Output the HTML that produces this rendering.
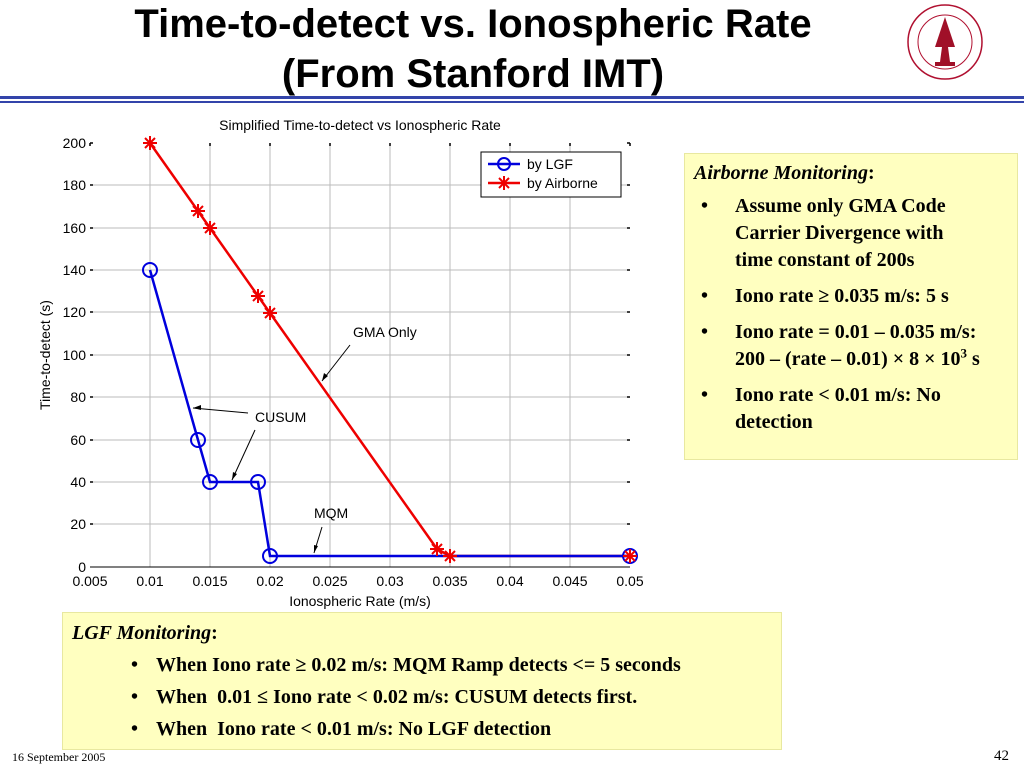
<!DOCTYPE html>
<html><head><meta charset="utf-8"><style>
body{margin:0;width:1024px;height:768px;background:#fff;position:relative;overflow:hidden;font-family:"Liberation Serif",serif}
.t{position:absolute;left:0;width:946px;text-align:center;font-family:"Liberation Sans",sans-serif;font-weight:bold;font-size:40px;line-height:46px}
.box{position:absolute;background:#ffffc0;border:1px solid #e8e8a0;font-weight:bold;font-size:20px;color:#000}
.box p{margin:0}
ul{margin:0;padding:0;list-style:none}
li{position:relative}
li:before{content:"•";position:absolute;left:0}
</style></head><body>
<div class="t" style="top:1px">Time-to-detect vs. Ionospheric Rate</div>
<div class="t" style="top:51px">(From Stanford IMT)</div>
<svg style="position:absolute;left:905px;top:2px" width="80" height="80" viewBox="0 0 80 80">
<circle cx="40" cy="40" r="37" fill="none" stroke="#b01030" stroke-width="1.5"/>
<circle cx="40" cy="40" r="27" fill="none" stroke="#b01030" stroke-width="1"/>
<path d="M40 15 L30 45 L37 45 L35 60 L45 60 L43 45 L50 45 Z" fill="#a01028"/>
<rect x="30" y="60" width="20" height="4" fill="#a01028"/>
</svg>
<div style="position:absolute;left:0;top:96px;width:1024px;height:3px;background:#3344aa"></div>
<div style="position:absolute;left:0;top:101px;width:1024px;height:2px;background:#3344aa"></div>
<svg style="position:absolute;left:0;top:0" width="680" height="612" font-family="Liberation Sans,sans-serif" font-size="14">
<text x="360" y="130" text-anchor="middle">Simplified Time-to-detect vs Ionospheric Rate</text>
<g stroke="#bbb" stroke-width="1">
<line x1="150" y1="143" x2="150" y2="567"/><line x1="210" y1="143" x2="210" y2="567"/><line x1="270" y1="143" x2="270" y2="567"/><line x1="330" y1="143" x2="330" y2="567"/><line x1="390" y1="143" x2="390" y2="567"/><line x1="450" y1="143" x2="450" y2="567"/><line x1="510" y1="143" x2="510" y2="567"/><line x1="570" y1="143" x2="570" y2="567"/>
<line x1="90" y1="185" x2="630" y2="185"/><line x1="90" y1="228" x2="630" y2="228"/><line x1="90" y1="270" x2="630" y2="270"/><line x1="90" y1="312" x2="630" y2="312"/><line x1="90" y1="355" x2="630" y2="355"/><line x1="90" y1="397" x2="630" y2="397"/><line x1="90" y1="440" x2="630" y2="440"/><line x1="90" y1="482" x2="630" y2="482"/><line x1="90" y1="524" x2="630" y2="524"/>
</g>
<g stroke="#000" stroke-width="1.5">
<path d="M90 143v3M150 143v3M210 143v3M270 143v3M330 143v3M390 143v3M450 143v3M510 143v3M570 143v3M630 143v3"/>
<path d="M90 143h3M90 185h3M90 228h3M90 270h3M90 312h3M90 355h3M90 397h3M90 440h3M90 482h3M90 524h3"/>
<path d="M627 143h3M627 185h3M627 228h3M627 270h3M627 312h3M627 355h3M627 397h3M627 440h3M627 482h3M627 524h3"/>
</g>
<line x1="90" y1="567" x2="630" y2="567" stroke="#000"/>
<g text-anchor="end"><text x="86" y="148">200</text><text x="86" y="190">180</text><text x="86" y="233">160</text><text x="86" y="275">140</text><text x="86" y="317">120</text><text x="86" y="360">100</text><text x="86" y="402">80</text><text x="86" y="445">60</text><text x="86" y="487">40</text><text x="86" y="529">20</text><text x="86" y="572">0</text></g>
<g text-anchor="middle"><text x="90" y="586">0.005</text><text x="150" y="586">0.01</text><text x="210" y="586">0.015</text><text x="270" y="586">0.02</text><text x="330" y="586">0.025</text><text x="390" y="586">0.03</text><text x="450" y="586">0.035</text><text x="510" y="586">0.04</text><text x="570" y="586">0.045</text><text x="630" y="586">0.05</text>
<text x="360" y="606">Ionospheric Rate (m/s)</text>
<text transform="translate(50,355) rotate(-90)">Time-to-detect (s)</text></g>
<polyline points="150,143 198,211 210,228 258,296 270,313 437,549 450,556 630,556" fill="none" stroke="#e00" stroke-width="2.5"/>
<polyline points="150,270 198,440 210,482 258,482 270,556 630,556" fill="none" stroke="#00d" stroke-width="2.5"/>
<g fill="none" stroke="#00d" stroke-width="2"><circle cx="150" cy="270" r="7"/><circle cx="198" cy="440" r="7"/><circle cx="210" cy="482" r="7"/><circle cx="258" cy="482" r="7"/><circle cx="270" cy="556" r="7"/><circle cx="630" cy="556" r="7"/></g>
<g stroke="#e00" stroke-width="2">
<path d="M-7 0H7M0 -7V7M-5 -5L5 5M-5 5L5 -5" transform="translate(150,143)"/>
<path d="M-7 0H7M0 -7V7M-5 -5L5 5M-5 5L5 -5" transform="translate(198,211)"/>
<path d="M-7 0H7M0 -7V7M-5 -5L5 5M-5 5L5 -5" transform="translate(210,228)"/>
<path d="M-7 0H7M0 -7V7M-5 -5L5 5M-5 5L5 -5" transform="translate(258,296)"/>
<path d="M-7 0H7M0 -7V7M-5 -5L5 5M-5 5L5 -5" transform="translate(270,313)"/>
<path d="M-7 0H7M0 -7V7M-5 -5L5 5M-5 5L5 -5" transform="translate(437,549)"/>
<path d="M-7 0H7M0 -7V7M-5 -5L5 5M-5 5L5 -5" transform="translate(450,556)"/>
<path d="M-7 0H7M0 -7V7M-5 -5L5 5M-5 5L5 -5" transform="translate(630,556)"/>
</g>
<rect x="481" y="152" width="140" height="45" fill="#fff" stroke="#000"/>
<line x1="488" y1="164" x2="520" y2="164" stroke="#00d" stroke-width="2.5"/><circle cx="504" cy="164" r="6" fill="none" stroke="#00d" stroke-width="2"/>
<line x1="488" y1="183" x2="520" y2="183" stroke="#e00" stroke-width="2.5"/><path d="M-7 0H7M0 -7V7M-5 -5L5 5M-5 5L5 -5" transform="translate(504,183)" stroke="#e00" stroke-width="2"/>
<text x="527" y="169">by LGF</text><text x="527" y="188">by Airborne</text>
<text x="353" y="337">GMA Only</text><text x="255" y="422">CUSUM</text><text x="314" y="518">MQM</text>
<g stroke="#000" fill="none"><line x1="350" y1="345" x2="322" y2="381"/><line x1="248" y1="413" x2="193" y2="408"/><line x1="255" y1="430" x2="232" y2="480"/><line x1="322" y1="527" x2="314" y2="553"/></g>
<g fill="#000"><path d="M322 381l2-8 4 3z"/><path d="M193 408l8-3 0 5z"/><path d="M232 480l1-8 4 2z"/><path d="M314 553l0-8 4 1z"/></g>
</svg>
<div class="box" style="left:684px;top:153px;width:332px;height:305px">
<p style="margin:8px 0 0 9px"><i>Airborne Monitoring</i>:</p>
<ul style="margin:8px 10px 0 16px;line-height:27px">
<li style="padding-left:34px;margin-bottom:9px;padding-right:30px">Assume only GMA Code Carrier Divergence with time constant of 200s</li>
<li style="padding-left:34px;margin-bottom:9px">Iono rate ≥ 0.035 m/s: 5 s</li>
<li style="padding-left:34px;margin-bottom:9px">Iono rate = 0.01 – 0.035 m/s:<br>200 – (rate – 0.01) × 8 × 10<sup style="font-size:13px;line-height:0">3</sup> s</li>
<li style="padding-left:34px">Iono rate &lt; 0.01 m/s: No detection</li>
</ul></div>
<div class="box" style="left:62px;top:612px;width:718px;height:136px">
<p style="margin:9px 0 0 9px"><i>LGF Monitoring</i>:</p>
<ul style="margin:4px 0 0 68px;line-height:32px">
<li style="padding-left:25px">When Iono rate ≥ 0.02 m/s: MQM Ramp detects &lt;= 5 seconds</li>
<li style="padding-left:25px">When&nbsp; 0.01 ≤ Iono rate &lt; 0.02 m/s: CUSUM detects first.</li>
<li style="padding-left:25px">When&nbsp; Iono rate &lt; 0.01 m/s: No LGF detection</li>
</ul></div>
<div style="position:absolute;left:12px;top:750px;font-size:12px">16 September 2005</div>
<div style="position:absolute;left:994px;top:748px;font-size:15px">42</div>
</body></html>
